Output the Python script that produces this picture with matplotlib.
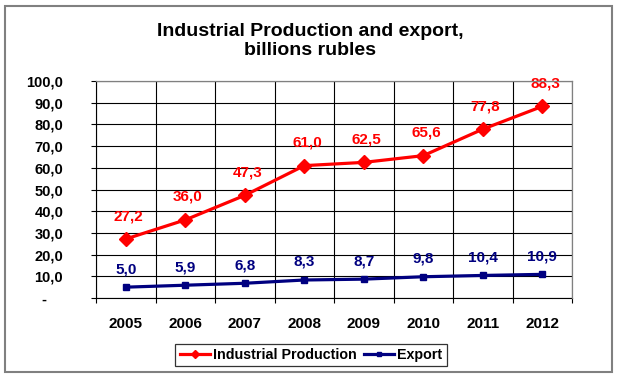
import numpy as np
import matplotlib.pyplot as plt
from matplotlib.patches import Rectangle

plt.rcParams['font.family'] = ['Liberation Sans', 'DejaVu Sans']

years = ["2005", "2006", "2007", "2008", "2009", "2010", "2011", "2012"]
industrial = [27.2, 36.0, 47.3, 61.0, 62.5, 65.6, 77.8, 88.3]
export = [5.0, 5.9, 6.8, 8.3, 8.7, 9.8, 10.4, 10.9]
y_ticks = [0, 10, 20, 30, 40, 50, 60, 70, 80, 90, 100]
y_labels = ["-\u2007\u2007", "10,0", "20,0", "30,0", "40,0", "50,0",
            "60,0", "70,0", "80,0", "90,0", "100,0"]

RED = "#FF0000"
NAVY = "#000080"

def fmt(v):
    return f"{v:.1f}".replace(".", ",")

fig = plt.figure(figsize=(6.19, 3.78), dpi=100)
ax = fig.add_axes([0.1551, 0.2116, 0.7690, 0.5741])

x = np.arange(len(years))
ax.plot(x, industrial, color=RED, lw=2.3, marker="D", ms=7.5,
        label="Industrial Production", zorder=4)
ax.plot(x, export, color=NAVY, lw=2.3, marker="s", ms=4.2,
        label="Export", zorder=4)

for xi, v in zip(x, industrial):
    ax.annotate(fmt(v), (xi, v), xytext=(2, 16.5), textcoords="offset points",
                ha="center", va="center", color=RED, fontsize=11, fontweight="bold")
for xi, v in zip(x, export):
    ax.annotate(fmt(v), (xi, v), xytext=(0, 13), textcoords="offset points",
                ha="center", va="center", color=NAVY, fontsize=11, fontweight="bold")

ax.set_xlim(-0.5, len(years) - 0.5)
ax.set_ylim(0, 100)

# category boundaries as major ticks (grid), year labels as minor ticks
ax.set_xticks(np.arange(len(years) + 1) - 0.5)
ax.set_xticklabels([])
ax.set_xticks(x, minor=True)
ax.set_xticklabels(years, minor=True, fontsize=11, fontweight="bold")
ax.tick_params(axis="x", which="major", direction="out", length=3.6, width=0.8)
ax.tick_params(axis="x", which="minor", length=0, pad=14)

ax.set_yticks(y_ticks)
ax.set_yticklabels(y_labels, fontsize=10.5, fontweight="bold")
ax.tick_params(axis="y", direction="out", length=3.6, width=0.8, pad=20)

ax.grid(True, which="major", color="black", lw=0.8)
ax.set_axisbelow(True)

for s in ["left", "bottom"]:
    ax.spines[s].set_color("black")
    ax.spines[s].set_linewidth(0.8)
for s in ["top", "right"]:
    ax.spines[s].set_color("#808080")
    ax.spines[s].set_linewidth(0.9)
    ax.spines[s].set_zorder(3)

fig.text(0.5008, 0.8915, "Industrial Production and export,\nbillions rubles",
         ha="center", va="center", fontsize=14, fontweight="bold",
         linespacing=1.15)

leg = fig.legend(loc="center", bbox_to_anchor=(0.5024, 0.0608), ncol=2,
                 frameon=True, fancybox=False,
                 prop={"weight": "bold", "size": 10.3}, markerscale=0.6,
                 handlelength=2.1, handletextpad=0.25, columnspacing=0.45,
                 borderpad=0.3, borderaxespad=0)
leg.get_frame().set_edgecolor("black")
leg.get_frame().set_linewidth(0.9)

fig.patches.append(Rectangle((5 / 619, 6 / 378), 607 / 619, 366 / 378,
                             transform=fig.transFigure, fill=False,
                             edgecolor="#808080", lw=1.5))

fig.savefig("out.png", dpi=100)
